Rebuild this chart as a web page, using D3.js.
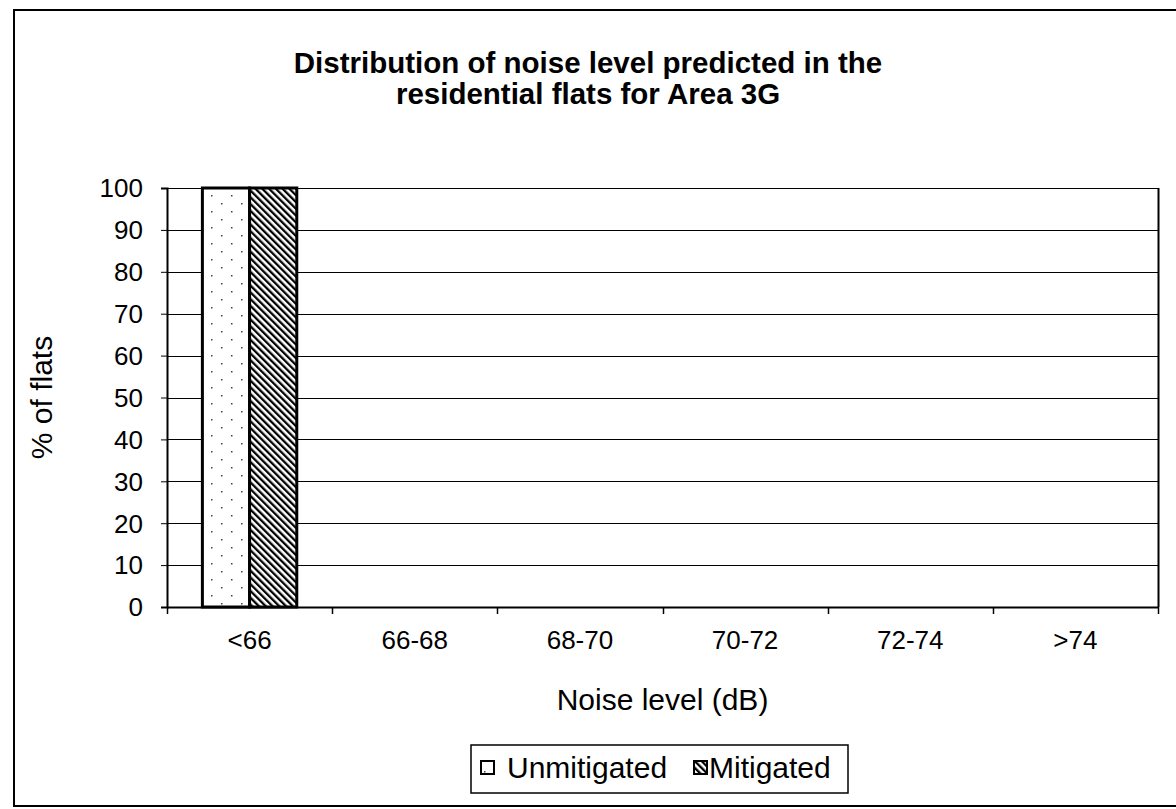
<!DOCTYPE html>
<html>
<head>
<meta charset="utf-8">
<script src="https://cdn.jsdelivr.net/npm/d3@7"></script>
<style>
  html, body { margin: 0; padding: 0; background: #fff; }
  svg text { font-family: "Liberation Sans", Arial, sans-serif; fill: #000; }
</style>
</head>
<body>
<svg id="chart" width="1176" height="809"></svg>
<script>
const categories = ["<66", "66-68", "68-70", "70-72", "72-74", ">74"];
const seriesNames = ["Unmitigated", "Mitigated"];
const unmitigated = [100, 0, 0, 0, 0, 0];
const mitigated = [100, 0, 0, 0, 0, 0];
const yTicks = [0, 10, 20, 30, 40, 50, 60, 70, 80, 90, 100];
const titleLines = ["Distribution of noise level predicted in the", "residential flats for Area 3G"];
const xTitle = "Noise level (dB)";
const yTitle = "% of flats";

const svg = d3.select("#chart");
const W = 1176, H = 809;
const m = { left: 167, right: 1158, top: 188, bottom: 607 };

// patterns
const defs = svg.append("defs");
const dots = defs.append("pattern").attr("id", "dots").attr("patternUnits", "userSpaceOnUse")
  .attr("width", 20).attr("height", 16);
dots.append("rect").attr("width", 20).attr("height", 16).attr("fill", "#fff");
dots.append("rect").attr("x", 4).attr("y", 3).attr("width", 1.5).attr("height", 1.5).attr("fill", "#444");
dots.append("rect").attr("x", 14).attr("y", 11).attr("width", 1.5).attr("height", 1.5).attr("fill", "#444");
const hatch = defs.append("pattern").attr("id", "hatch").attr("patternUnits", "userSpaceOnUse")
  .attr("width", 4.8).attr("height", 4.8).attr("patternTransform", "rotate(-45)");
hatch.append("rect").attr("width", 4.8).attr("height", 4.8).attr("fill", "#fff");
hatch.append("rect").attr("x", 0).attr("y", 0).attr("width", 2.3).attr("height", 4.8).attr("fill", "#000");

// outer chart border
svg.append("path").attr("d", `M${W + 5},10 H14 V806 H${W + 5}`)
  .attr("fill", "none").attr("stroke", "#000").attr("stroke-width", 2);

const x0 = d3.scaleBand().domain(categories).range([m.left, m.right]).padding(0);
// gap width 150%: band = 2 bars + 1.5 bar-width gap
const x1 = d3.scaleBand().domain(seriesNames)
  .range([x0.bandwidth() * 0.75 / 3.5, x0.bandwidth() * (1 - 0.75 / 3.5)]).padding(0);
const y = d3.scaleLinear().domain([0, 100]).range([m.bottom, m.top]);

// gridlines
svg.append("g").selectAll("line").data(yTicks.filter(t => t > 0)).join("line")
  .attr("x1", m.left).attr("x2", m.right)
  .attr("y1", d => Math.round(y(d)) + 0.5).attr("y2", d => Math.round(y(d)) + 0.5)
  .attr("stroke", "#000").attr("stroke-width", 1);

// plot area right border
svg.append("line").attr("x1", m.right + 0.5).attr("x2", m.right + 0.5).attr("y1", m.top).attr("y2", m.bottom)
  .attr("stroke", "#000").attr("stroke-width", 2);

// bars
const data = categories.map((c, i) => ({ c, vals: [
  { s: "Unmitigated", v: unmitigated[i], fill: "url(#dots)" },
  { s: "Mitigated", v: mitigated[i], fill: "url(#hatch)" }
]}));
svg.append("g").selectAll("g").data(data).join("g")
  .attr("transform", d => `translate(${x0(d.c)},0)`)
  .selectAll("rect").data(d => d.vals).join("rect")
  .attr("x", d => x1(d.s)).attr("width", x1.bandwidth())
  .attr("y", d => y(d.v)).attr("height", d => y(0) - y(d.v))
  .attr("fill", d => d.fill)
  .attr("stroke", d => d.v > 0 ? "#000" : "none").attr("stroke-width", 3);

// y axis
const yAxis = d3.axisLeft(y).tickValues(yTicks).tickSize(6).tickPadding(18);
const ya = svg.append("g").attr("transform", `translate(${m.left},0)`).call(yAxis);
ya.select(".domain").attr("stroke", "#000").attr("stroke-width", 2);
ya.selectAll(".tick line").attr("stroke", "#000");
ya.selectAll("text").style("font-size", "26px").attr("dy", "0.34em").attr("fill", "#000");

// x axis
const xAxis = d3.axisBottom(x0).tickSize(0).tickPadding(0);
const xa = svg.append("g").attr("transform", `translate(0,${m.bottom})`).call(xAxis);
xa.select(".domain").attr("stroke", "#000").attr("stroke-width", 2);
xa.selectAll("text").style("font-size", "26px").attr("y", 42).attr("dy", 0).attr("fill", "#000");
// category boundary ticks
const bounds = categories.map(c => x0(c)).concat([m.right]);
svg.append("g").selectAll("line").data(bounds).join("line")
  .attr("x1", d => Math.round(d) + 0.5).attr("x2", d => Math.round(d) + 0.5)
  .attr("y1", m.bottom).attr("y2", m.bottom + 7).attr("stroke", "#000").attr("stroke-width", 1.5);

// titles
svg.append("g").selectAll("text").data(titleLines).join("text")
  .attr("x", 588).attr("y", (d, i) => 73 + i * 31).attr("text-anchor", "middle")
  .style("font-size", "29.5px").style("font-weight", "bold").text(d => d);

svg.append("text").attr("x", (m.left + m.right) / 2).attr("y", 710)
  .attr("text-anchor", "middle").style("font-size", "30px").text(xTitle);

svg.append("text").attr("transform", `translate(52,${(m.top + m.bottom) / 2}) rotate(-90)`)
  .attr("text-anchor", "middle").style("font-size", "30px").text(yTitle);

// legend
const lg = svg.append("g");
lg.append("rect").attr("x", 471).attr("y", 745).attr("width", 377).attr("height", 48)
  .attr("fill", "#fff").attr("stroke", "#000").attr("stroke-width", 1.5);
const items = [
  { s: "Unmitigated", fill: "url(#dots)", x: 481, tx: 507 },
  { s: "Mitigated", fill: "url(#hatch)", x: 694, tx: 709 }
];
items.forEach(it => {
  lg.append("rect").attr("x", it.x).attr("y", 761).attr("width", 13).attr("height", 13)
    .attr("fill", it.fill).attr("stroke", "#000").attr("stroke-width", 2);
  lg.append("text").attr("x", it.tx).attr("y", 778).style("font-size", "30px").text(it.s);
});
</script>
</body>
</html>
